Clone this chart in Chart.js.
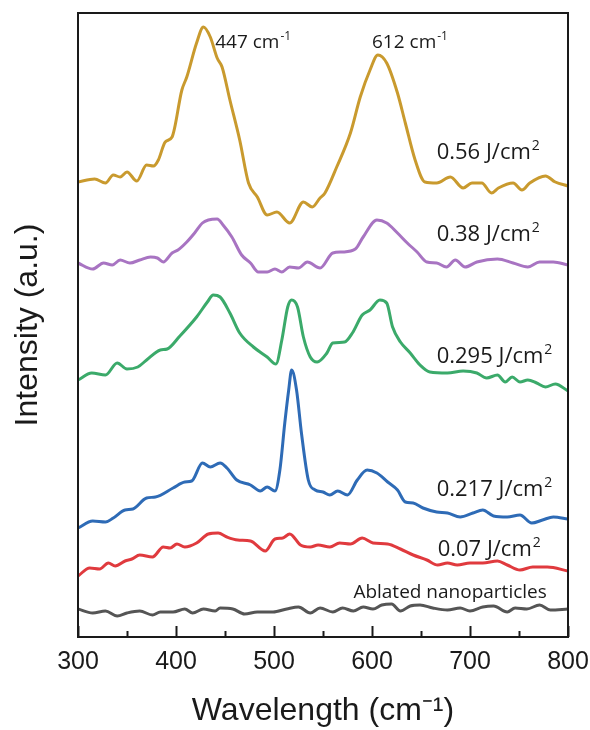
<!DOCTYPE html>
<html>
<head>
<meta charset="utf-8">
<script src="https://cdn.jsdelivr.net/npm/chart.js@4.4.1/dist/chart.umd.min.js"></script>
<style>
  html, body { margin: 0; padding: 0; background: #ffffff; }
  #wrap { width: 590px; height: 730px; position: relative; }
</style>
</head>
<body>
<div id="wrap"><canvas id="raman-chart"></canvas></div>
<script>
// spectra (x in cm-1, y in arbitrary stacked intensity units)
const goldX = [300,317,328,336,343,350,360,370,377,382,389,396,406,411,421,428,435,442,447,455,465,474,483,493,503,516,530,539,547,552,564,578,588,598,606,615,626,634,644,654,666,680,693,702,712,722,729,744,753,761,777,787,800];
const goldY = [455,458,454,462,460,465,456,472,471,477,495,500,547,560,594,610,600,579,570,537,497,454,440,422,425,414,435,430,439,444,470,504,540,567,582,574,544,514,477,455,454,460,449,454,454,444,449,454,447,454,461,455,451];

const purpleX = [300,315,326,335,343,353,363,374,381,387,396,402,411,419,427,433,442,448,457,467,476,484,493,501,508,516,525,534,547,560,570,583,591,605,615,626,636,646,656,666,676,685,695,707,728,744,759,771,785,800];
const purpleY = [374,368,374,372,377,374,377,380,379,375,384,387,395,404,414,417,418,412,400,382,374,365,365,368,365,370,369,375,369,384,385,388,400,417,414,404,394,385,375,374,370,377,370,375,378,374,370,375,375,372];

const greenX = [300,314,328,340,350,361,370,384,391,404,421,432,438,445,455,465,479,493,502,508,514,518,524,530,537,544,554,560,572,580,590,598,608,615,621,629,639,649,659,677,693,707,717,728,736,743,751,759,768,777,787,800];
const greenY = [257,264,262,274,268,270,277,287,288,301,320,335,342,340,324,304,290,280,273,297,330,337,330,300,280,275,284,294,295,304,322,327,337,334,310,295,284,272,265,264,266,264,259,262,255,260,255,257,254,250,253,246];

const blueX = [300,315,328,336,348,356,370,379,397,409,416,427,435,445,452,462,476,486,493,501,506,511,515,518,523,528,535,542,550,557,565,575,585,595,605,616,626,634,642,652,666,677,690,703,713,724,738,751,763,774,785,800];
const blueY = [109,116,115,119,127,128,139,140,149,155,156,174,170,174,169,157,152,146,150,146,167,214,247,267,247,204,157,147,145,142,146,142,157,167,164,155,147,135,134,129,125,124,120,124,127,121,120,122,114,117,120,118];

const redX = [300,312,322,331,338,348,355,363,376,387,394,401,409,421,433,443,452,463,476,491,501,509,516,527,537,545,557,567,578,590,601,616,629,642,656,667,677,687,700,713,728,738,751,764,779,800];
const redY = [61,69,68,74,71,76,78,82,80,90,89,93,90,94,103,104,100,97,96,86,98,99,103,92,90,92,90,94,93,99,94,93,88,82,77,72,74,72,74,74,76,72,67,70,70,66];

const grayX = [300,315,328,340,350,363,376,384,397,409,417,428,440,445,458,470,483,499,513,525,537,547,560,570,581,591,601,610,620,629,639,649,662,677,690,700,713,724,738,746,758,771,782,800];
const grayY = [28,24,26,21,24,26,22,25,25,28,24,28,26,29,28,23,25,25,28,30,24,29,25,29,26,30,28,32,33,26,31,32,29,27,29,26,30,31,25,29,28,32,27,28];

const seriesNames = ['0.56 J/cm2', '0.38 J/cm2', '0.295 J/cm2', '0.217 J/cm2', '0.07 J/cm2', 'Ablated nanoparticles'];

// in-plot labels: base text + superscript part
const labelText = ['447 cm', '612 cm', '0.56 J/cm', '0.38 J/cm', '0.295 J/cm', '0.217 J/cm', '0.07 J/cm', 'Ablated nanoparticles'];
const labelSup = ['-1', '-1', '2', '2', '2', '2', '2', ''];
// where each label sits, in axis units (left edge, vertical middle)
const labelAt = [[440, 594], [600, 594], [666, 484], [666, 402], [666, 280], [666, 147], [667, 87], [581, 44]];
const labelSize = [19, 19, 22, 22, 22, 22, 22, 19];

const xTickLabels = ['300', '400', '500', '600', '700', '800'];

const toPoints = (xs, ys) => xs.map((x, i) => ({ x, y: ys[i] }));

const ink = '#1a1a1a';

const frame = {
  id: 'frame',
  afterDraw(chart) {
    const { ctx, chartArea: a, scales } = chart;
    const x = scales.x;
    const y = scales.y;
    ctx.save();
    ctx.strokeStyle = ink;
    ctx.lineWidth = 2;
    ctx.strokeRect(a.left, a.top, a.right - a.left, a.bottom - a.top);

    // inward ticks, long on 100s, short on 50s
    for (let v = 300; v <= 800; v += 50) {
      const px = Math.round(x.getPixelForValue(v)) + 0.5;
      const len = v % 100 === 0 ? 11 : 6;
      ctx.beginPath();
      ctx.moveTo(px, a.bottom);
      ctx.lineTo(px, a.bottom - len);
      ctx.stroke();
    }

    ctx.fillStyle = ink;
    ctx.textBaseline = 'middle';
    ctx.textAlign = 'left';
    labelText.forEach((t, i) => {
      const size = labelSize[i];
      const px = x.getPixelForValue(labelAt[i][0]);
      const py = y.getPixelForValue(labelAt[i][1]);
      ctx.font = `${size}px "Open Sans"`;
      ctx.fillText(t, px, py);
      if (labelSup[i]) {
        const w = ctx.measureText(t).width;
        ctx.font = `${Math.round(size * 0.62)}px "Open Sans"`;
        ctx.fillText(labelSup[i], px + w + 1, py - size * 0.32);
      }
    });
    ctx.restore();
  },
};

const ctx = document.getElementById('raman-chart');

new Chart(ctx, {
  type: 'line',
  data: {
    datasets: [
      { label: seriesNames[0], data: toPoints(goldX, goldY), borderColor: '#C99A2E' },
      { label: seriesNames[1], data: toPoints(purpleX, purpleY), borderColor: '#A874C2' },
      { label: seriesNames[2], data: toPoints(greenX, greenY), borderColor: '#3BAA6A' },
      { label: seriesNames[3], data: toPoints(blueX, blueY), borderColor: '#2E6BB6' },
      { label: seriesNames[4], data: toPoints(redX, redY), borderColor: '#E03A3E' },
      { label: seriesNames[5], data: toPoints(grayX, grayY), borderColor: '#555555' },
    ].map((d) => ({
      ...d,
      borderWidth: 3,
      pointRadius: 0,
      fill: false,
      cubicInterpolationMode: 'monotone',
    })),
  },
  options: {
    animation: false,
    responsive: true,
    maintainAspectRatio: false,
    layout: { padding: { top: 13, right: 22, left: 0, bottom: 0 } },
    plugins: {
      legend: { display: false },
      tooltip: { enabled: false },
    },
    scales: {
      x: {
        type: 'linear',
        min: 300,
        max: 800,
        grid: { display: false, drawTicks: false },
        border: { display: false },
        ticks: {
          stepSize: 100,
          padding: 10,
          color: ink,
          font: { family: '"Liberation Sans", Arial', size: 25 },
          callback: (v) => (xTickLabels.includes(String(v)) ? String(v) : ''),
        },
        title: {
          display: true,
          text: 'Wavelength (cm\u207B\u00B9)',
          color: ink,
          font: { family: '"Liberation Sans", Arial', size: 32 },
          padding: { top: 0, bottom: 0 },
        },
        afterFit: (s) => {
          s.height = 93;
          s.paddingLeft = 0;
          s.paddingRight = 0;
        },
      },
      y: {
        min: 0,
        max: 624,
        grid: { display: false, drawTicks: false },
        border: { display: false },
        ticks: { display: false },
        title: {
          display: true,
          text: 'Intensity (a.u.)',
          color: ink,
          font: { family: '"Liberation Sans", Arial', size: 32 },
          padding: { top: 9, bottom: 0 },
        },
        afterFit: (s) => { s.width = 78; },
      },
    },
  },
  plugins: [frame],
});
</script>
</body>
</html>
